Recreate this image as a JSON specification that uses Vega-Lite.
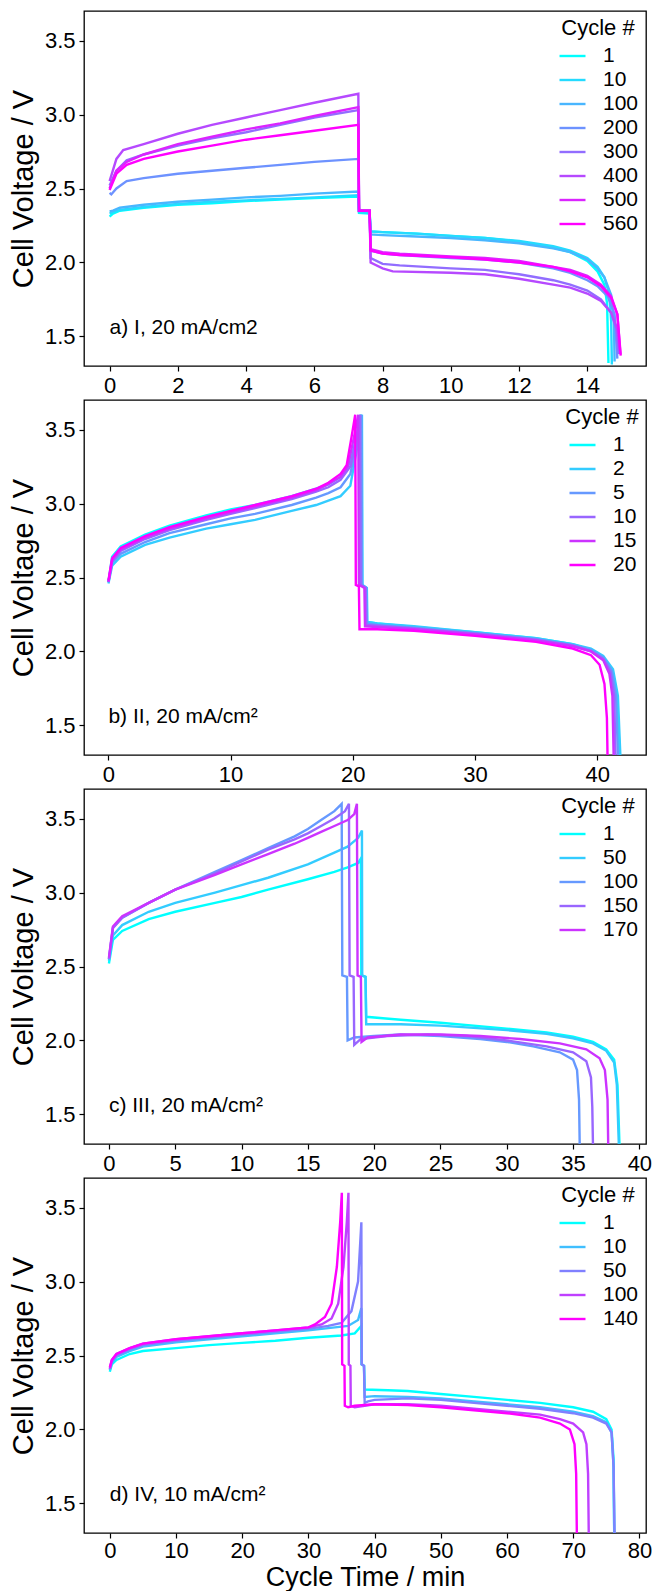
{
"$schema": "https://vega.github.io/schema/vega-lite/v6.json",
"background": "white",
"padding": {"left": 8, "top": 10, "right": 9, "bottom": 0},
"bounds": "flush",
"spacing": 34,
"config": {
  "font": "Liberation Sans",
  "view": {"stroke": "black", "strokeWidth": 1.3},
  "axis": {"domain": false, "grid": false, "tickColor": "black", "tickSize": 5, "tickWidth": 1.2, "labelFontSize": 22, "labelColor": "black", "labelPadding": 4, "titleFontSize": 29, "titleFontWeight": "normal", "titleColor": "black", "titlePadding": 6},
  "legend": {"orient": "top-right", "offset": 7, "padding": 0, "titleFontSize": 22, "titleFontWeight": "normal", "titleColor": "black", "labelFontSize": 21, "labelColor": "black", "symbolType": "stroke", "symbolSize": 676, "symbolStrokeWidth": 2.5, "labelOffset": 16, "rowPadding": 0, "clipHeight": 24, "titleAnchor": "middle", "titlePadding": 4},
  "line": {"strokeWidth": 2.4, "clip": true},
  "text": {"fontSize": 21, "color": "black", "align": "left", "baseline": "alphabetic"}
},
"resolve": {"scale": {"color": "independent", "x": "independent", "y": "independent"}, "legend": {"color": "independent"}},
"datasets": {
"a": [
{"c":1,"t":0,"v":2.31},{"c":1,"t":0.1,"v":2.33},{"c":1,"t":0.3,"v":2.35},{"c":1,"t":1,"v":2.37},{"c":1,"t":2,"v":2.39},{"c":1,"t":3,"v":2.40},{"c":1,"t":4,"v":2.415},{"c":1,"t":5,"v":2.425},{"c":1,"t":6,"v":2.435},{"c":1,"t":7.29,"v":2.445},{"c":1,"t":7.31,"v":2.335},{"c":1,"t":7.62,"v":2.33},{"c":1,"t":7.65,"v":2.21},{"c":1,"t":8,"v":2.205},{"c":1,"t":9,"v":2.195},{"c":1,"t":10,"v":2.18},{"c":1,"t":11,"v":2.165},{"c":1,"t":12,"v":2.14},{"c":1,"t":13,"v":2.10},{"c":1,"t":13.5,"v":2.07},{"c":1,"t":14,"v":2.01},{"c":1,"t":14.3,"v":1.94},{"c":1,"t":14.5,"v":1.85},{"c":1,"t":14.58,"v":1.72},{"c":1,"t":14.62,"v":1.32},
{"c":10,"t":0,"v":2.33},{"c":10,"t":0.1,"v":2.34},{"c":10,"t":0.3,"v":2.355},{"c":10,"t":1,"v":2.375},{"c":10,"t":2,"v":2.395},{"c":10,"t":3,"v":2.41},{"c":10,"t":4,"v":2.42},{"c":10,"t":5,"v":2.43},{"c":10,"t":6,"v":2.44},{"c":10,"t":7.29,"v":2.455},{"c":10,"t":7.31,"v":2.34},{"c":10,"t":7.62,"v":2.335},{"c":10,"t":7.65,"v":2.21},{"c":10,"t":8,"v":2.205},{"c":10,"t":9,"v":2.195},{"c":10,"t":10,"v":2.18},{"c":10,"t":11,"v":2.165},{"c":10,"t":12,"v":2.145},{"c":10,"t":13,"v":2.11},{"c":10,"t":13.5,"v":2.08},{"c":10,"t":14,"v":2.03},{"c":10,"t":14.3,"v":1.97},{"c":10,"t":14.5,"v":1.90},{"c":10,"t":14.65,"v":1.78},{"c":10,"t":14.7,"v":1.60},{"c":10,"t":14.72,"v":1.31},
{"c":100,"t":0,"v":2.345},{"c":100,"t":0.1,"v":2.35},{"c":100,"t":0.3,"v":2.37},{"c":100,"t":1,"v":2.39},{"c":100,"t":2,"v":2.41},{"c":100,"t":3,"v":2.425},{"c":100,"t":4,"v":2.44},{"c":100,"t":5,"v":2.45},{"c":100,"t":6,"v":2.465},{"c":100,"t":7.29,"v":2.48},{"c":100,"t":7.31,"v":2.35},{"c":100,"t":7.62,"v":2.345},{"c":100,"t":7.65,"v":2.19},{"c":100,"t":8,"v":2.185},{"c":100,"t":9,"v":2.175},{"c":100,"t":10,"v":2.165},{"c":100,"t":11,"v":2.15},{"c":100,"t":12,"v":2.13},{"c":100,"t":13,"v":2.095},{"c":100,"t":13.5,"v":2.07},{"c":100,"t":14,"v":2.02},{"c":100,"t":14.3,"v":1.96},{"c":100,"t":14.5,"v":1.90},{"c":100,"t":14.7,"v":1.78},{"c":100,"t":14.78,"v":1.60},{"c":100,"t":14.8,"v":1.33},
{"c":200,"t":0,"v":2.47},{"c":200,"t":0.05,"v":2.46},{"c":200,"t":0.2,"v":2.50},{"c":200,"t":0.5,"v":2.55},{"c":200,"t":1,"v":2.57},{"c":200,"t":2,"v":2.60},{"c":200,"t":3,"v":2.62},{"c":200,"t":4,"v":2.64},{"c":200,"t":5,"v":2.66},{"c":200,"t":6,"v":2.68},{"c":200,"t":7.29,"v":2.70},{"c":200,"t":7.31,"v":2.35},{"c":200,"t":7.62,"v":2.35},{"c":200,"t":7.65,"v":2.08},{"c":200,"t":8,"v":2.06},{"c":200,"t":8.5,"v":2.05},{"c":200,"t":10,"v":2.03},{"c":200,"t":11,"v":2.02},{"c":200,"t":12,"v":2.00},{"c":200,"t":13,"v":1.96},{"c":200,"t":13.5,"v":1.93},{"c":200,"t":14,"v":1.88},{"c":200,"t":14.3,"v":1.84},{"c":200,"t":14.6,"v":1.77},{"c":200,"t":14.8,"v":1.65},{"c":200,"t":14.88,"v":1.35},
{"c":300,"t":0,"v":2.52},{"c":300,"t":0.2,"v":2.62},{"c":300,"t":0.5,"v":2.69},{"c":300,"t":1,"v":2.73},{"c":300,"t":2,"v":2.79},{"c":300,"t":3,"v":2.84},{"c":300,"t":4,"v":2.88},{"c":300,"t":5,"v":2.93},{"c":300,"t":6,"v":2.98},{"c":300,"t":7.29,"v":3.03},{"c":300,"t":7.31,"v":2.35},{"c":300,"t":7.62,"v":2.35},{"c":300,"t":7.65,"v":2.03},{"c":300,"t":8,"v":1.99},{"c":300,"t":8.5,"v":1.98},{"c":300,"t":10,"v":1.96},{"c":300,"t":11,"v":1.95},{"c":300,"t":12,"v":1.92},{"c":300,"t":13,"v":1.88},{"c":300,"t":13.5,"v":1.85},{"c":300,"t":14,"v":1.81},{"c":300,"t":14.4,"v":1.75},{"c":300,"t":14.7,"v":1.66},{"c":300,"t":14.85,"v":1.55},{"c":300,"t":14.92,"v":1.38},
{"c":400,"t":0,"v":2.55},{"c":400,"t":0.2,"v":2.70},{"c":400,"t":0.4,"v":2.76},{"c":400,"t":1,"v":2.80},{"c":400,"t":2,"v":2.87},{"c":400,"t":3,"v":2.93},{"c":400,"t":4,"v":2.98},{"c":400,"t":5,"v":3.03},{"c":400,"t":6,"v":3.08},{"c":400,"t":7.29,"v":3.14},{"c":400,"t":7.31,"v":2.35},{"c":400,"t":7.62,"v":2.35},{"c":400,"t":7.65,"v":2.00},{"c":400,"t":8,"v":1.96},{"c":400,"t":8.3,"v":1.94},{"c":400,"t":10,"v":1.93},{"c":400,"t":11,"v":1.92},{"c":400,"t":12,"v":1.89},{"c":400,"t":13,"v":1.85},{"c":400,"t":13.5,"v":1.83},{"c":400,"t":14,"v":1.79},{"c":400,"t":14.4,"v":1.74},{"c":400,"t":14.7,"v":1.66},{"c":400,"t":14.88,"v":1.55},{"c":400,"t":14.95,"v":1.40},
{"c":500,"t":0,"v":2.50},{"c":500,"t":0.2,"v":2.62},{"c":500,"t":0.5,"v":2.68},{"c":500,"t":1,"v":2.73},{"c":500,"t":2,"v":2.80},{"c":500,"t":3,"v":2.85},{"c":500,"t":4,"v":2.90},{"c":500,"t":5,"v":2.94},{"c":500,"t":6,"v":2.99},{"c":500,"t":7.29,"v":3.05},{"c":500,"t":7.31,"v":2.35},{"c":500,"t":7.62,"v":2.35},{"c":500,"t":7.65,"v":2.09},{"c":500,"t":8,"v":2.07},{"c":500,"t":8.5,"v":2.06},{"c":500,"t":10,"v":2.04},{"c":500,"t":11,"v":2.03},{"c":500,"t":12,"v":2.01},{"c":500,"t":13,"v":1.97},{"c":500,"t":13.5,"v":1.95},{"c":500,"t":14,"v":1.91},{"c":500,"t":14.4,"v":1.85},{"c":500,"t":14.7,"v":1.77},{"c":500,"t":14.88,"v":1.65},{"c":500,"t":14.97,"v":1.38},
{"c":560,"t":0,"v":2.49},{"c":560,"t":0.2,"v":2.60},{"c":560,"t":0.5,"v":2.66},{"c":560,"t":1,"v":2.70},{"c":560,"t":2,"v":2.75},{"c":560,"t":3,"v":2.79},{"c":560,"t":4,"v":2.83},{"c":560,"t":5,"v":2.86},{"c":560,"t":6,"v":2.89},{"c":560,"t":7.29,"v":2.93},{"c":560,"t":7.31,"v":2.35},{"c":560,"t":7.62,"v":2.35},{"c":560,"t":7.65,"v":2.08},{"c":560,"t":8,"v":2.06},{"c":560,"t":8.5,"v":2.05},{"c":560,"t":10,"v":2.035},{"c":560,"t":11,"v":2.02},{"c":560,"t":12,"v":2.00},{"c":560,"t":13,"v":1.97},{"c":560,"t":13.5,"v":1.94},{"c":560,"t":14,"v":1.90},{"c":560,"t":14.4,"v":1.84},{"c":560,"t":14.7,"v":1.76},{"c":560,"t":14.88,"v":1.65},{"c":560,"t":14.98,"v":1.37}
],
"b": [
{"c":1,"t":0,"v":2.47},{"c":1,"t":0.3,"v":2.64},{"c":1,"t":1,"v":2.71},{"c":1,"t":3,"v":2.79},{"c":1,"t":5,"v":2.85},{"c":1,"t":8,"v":2.92},{"c":1,"t":10,"v":2.96},{"c":1,"t":12,"v":2.99},{"c":1,"t":15,"v":3.05},{"c":1,"t":17,"v":3.10},{"c":1,"t":18,"v":3.13},{"c":1,"t":19,"v":3.18},{"c":1,"t":19.8,"v":3.28},{"c":1,"t":20.3,"v":3.45},{"c":1,"t":20.65,"v":3.60},{"c":1,"t":20.7,"v":2.45},{"c":1,"t":21.1,"v":2.43},{"c":1,"t":21.15,"v":2.20},{"c":1,"t":22,"v":2.19},{"c":1,"t":25,"v":2.165},{"c":1,"t":30,"v":2.13},{"c":1,"t":35,"v":2.09},{"c":1,"t":38,"v":2.05},{"c":1,"t":39.5,"v":2.01},{"c":1,"t":40.5,"v":1.96},{"c":1,"t":41.2,"v":1.88},{"c":1,"t":41.6,"v":1.72},{"c":1,"t":41.85,"v":1.30},
{"c":2,"t":0,"v":2.46},{"c":2,"t":0.3,"v":2.58},{"c":2,"t":1,"v":2.64},{"c":2,"t":3,"v":2.72},{"c":2,"t":5,"v":2.77},{"c":2,"t":8,"v":2.83},{"c":2,"t":10,"v":2.86},{"c":2,"t":12,"v":2.89},{"c":2,"t":15,"v":2.95},{"c":2,"t":17,"v":2.99},{"c":2,"t":18,"v":3.02},{"c":2,"t":19,"v":3.05},{"c":2,"t":19.8,"v":3.12},{"c":2,"t":20.3,"v":3.35},{"c":2,"t":20.75,"v":3.60},{"c":2,"t":20.8,"v":2.45},{"c":2,"t":21.15,"v":2.43},{"c":2,"t":21.2,"v":2.20},{"c":2,"t":22,"v":2.19},{"c":2,"t":25,"v":2.17},{"c":2,"t":30,"v":2.13},{"c":2,"t":35,"v":2.09},{"c":2,"t":38,"v":2.05},{"c":2,"t":39.5,"v":2.02},{"c":2,"t":40.5,"v":1.97},{"c":2,"t":41.3,"v":1.88},{"c":2,"t":41.7,"v":1.70},{"c":2,"t":41.9,"v":1.30},
{"c":5,"t":0,"v":2.47},{"c":5,"t":0.3,"v":2.60},{"c":5,"t":1,"v":2.66},{"c":5,"t":3,"v":2.74},{"c":5,"t":5,"v":2.80},{"c":5,"t":8,"v":2.86},{"c":5,"t":10,"v":2.90},{"c":5,"t":12,"v":2.93},{"c":5,"t":15,"v":2.99},{"c":5,"t":17,"v":3.04},{"c":5,"t":18,"v":3.07},{"c":5,"t":19,"v":3.11},{"c":5,"t":19.8,"v":3.20},{"c":5,"t":20.3,"v":3.40},{"c":5,"t":20.7,"v":3.60},{"c":5,"t":20.75,"v":2.45},{"c":5,"t":21.1,"v":2.43},{"c":5,"t":21.15,"v":2.19},{"c":5,"t":22,"v":2.18},{"c":5,"t":25,"v":2.16},{"c":5,"t":30,"v":2.125},{"c":5,"t":35,"v":2.085},{"c":5,"t":38,"v":2.045},{"c":5,"t":39.5,"v":2.01},{"c":5,"t":40.5,"v":1.96},{"c":5,"t":41.2,"v":1.87},{"c":5,"t":41.55,"v":1.70},{"c":5,"t":41.7,"v":1.30},
{"c":10,"t":0,"v":2.47},{"c":10,"t":0.3,"v":2.61},{"c":10,"t":1,"v":2.68},{"c":10,"t":3,"v":2.76},{"c":10,"t":5,"v":2.82},{"c":10,"t":8,"v":2.89},{"c":10,"t":10,"v":2.93},{"c":10,"t":12,"v":2.97},{"c":10,"t":15,"v":3.03},{"c":10,"t":17,"v":3.08},{"c":10,"t":18,"v":3.11},{"c":10,"t":19,"v":3.16},{"c":10,"t":19.8,"v":3.25},{"c":10,"t":20.3,"v":3.45},{"c":10,"t":20.6,"v":3.60},{"c":10,"t":20.65,"v":2.45},{"c":10,"t":21.05,"v":2.43},{"c":10,"t":21.1,"v":2.18},{"c":10,"t":22,"v":2.175},{"c":10,"t":25,"v":2.155},{"c":10,"t":30,"v":2.12},{"c":10,"t":35,"v":2.08},{"c":10,"t":38,"v":2.04},{"c":10,"t":39.5,"v":2.00},{"c":10,"t":40.5,"v":1.95},{"c":10,"t":41.1,"v":1.86},{"c":10,"t":41.4,"v":1.70},{"c":10,"t":41.5,"v":1.30},
{"c":15,"t":0,"v":2.47},{"c":15,"t":0.3,"v":2.62},{"c":15,"t":1,"v":2.69},{"c":15,"t":3,"v":2.77},{"c":15,"t":5,"v":2.83},{"c":15,"t":8,"v":2.90},{"c":15,"t":10,"v":2.94},{"c":15,"t":12,"v":2.98},{"c":15,"t":15,"v":3.04},{"c":15,"t":17,"v":3.09},{"c":15,"t":18,"v":3.13},{"c":15,"t":19,"v":3.18},{"c":15,"t":19.6,"v":3.25},{"c":15,"t":20.1,"v":3.45},{"c":15,"t":20.45,"v":3.60},{"c":15,"t":20.5,"v":2.45},{"c":15,"t":20.95,"v":2.43},{"c":15,"t":21.0,"v":2.17},{"c":15,"t":22,"v":2.165},{"c":15,"t":25,"v":2.15},{"c":15,"t":30,"v":2.115},{"c":15,"t":35,"v":2.075},{"c":15,"t":38,"v":2.035},{"c":15,"t":39.5,"v":2.00},{"c":15,"t":40.5,"v":1.94},{"c":15,"t":41.0,"v":1.85},{"c":15,"t":41.25,"v":1.70},{"c":15,"t":41.35,"v":1.30},
{"c":20,"t":0,"v":2.48},{"c":20,"t":0.3,"v":2.63},{"c":20,"t":1,"v":2.70},{"c":20,"t":3,"v":2.78},{"c":20,"t":5,"v":2.84},{"c":20,"t":8,"v":2.91},{"c":20,"t":10,"v":2.95},{"c":20,"t":12,"v":2.99},{"c":20,"t":15,"v":3.05},{"c":20,"t":17,"v":3.10},{"c":20,"t":18,"v":3.14},{"c":20,"t":19,"v":3.20},{"c":20,"t":19.5,"v":3.26},{"c":20,"t":19.9,"v":3.45},{"c":20,"t":20.2,"v":3.60},{"c":20,"t":20.25,"v":2.45},{"c":20,"t":20.5,"v":2.44},{"c":20,"t":20.55,"v":2.15},{"c":20,"t":22,"v":2.15},{"c":20,"t":25,"v":2.14},{"c":20,"t":30,"v":2.105},{"c":20,"t":35,"v":2.065},{"c":20,"t":38,"v":2.02},{"c":20,"t":39.5,"v":1.975},{"c":20,"t":40.2,"v":1.91},{"c":20,"t":40.6,"v":1.78},{"c":20,"t":40.8,"v":1.55},{"c":20,"t":40.85,"v":1.30}
],
"c": [
{"c":1,"t":0,"v":2.52},{"c":1,"t":0.3,"v":2.68},{"c":1,"t":1,"v":2.74},{"c":1,"t":3,"v":2.82},{"c":1,"t":5,"v":2.87},{"c":1,"t":8,"v":2.93},{"c":1,"t":10,"v":2.97},{"c":1,"t":12,"v":3.02},{"c":1,"t":15,"v":3.09},{"c":1,"t":17,"v":3.14},{"c":1,"t":18,"v":3.17},{"c":1,"t":18.8,"v":3.20},{"c":1,"t":19,"v":3.23},{"c":1,"t":19.03,"v":2.44},{"c":1,"t":19.35,"v":2.43},{"c":1,"t":19.4,"v":2.16},{"c":1,"t":22,"v":2.14},{"c":1,"t":25,"v":2.12},{"c":1,"t":30,"v":2.08},{"c":1,"t":33,"v":2.055},{"c":1,"t":35,"v":2.025},{"c":1,"t":36.5,"v":1.99},{"c":1,"t":37.5,"v":1.94},{"c":1,"t":38.1,"v":1.87},{"c":1,"t":38.35,"v":1.70},{"c":1,"t":38.5,"v":1.30},
{"c":50,"t":0,"v":2.54},{"c":50,"t":0.3,"v":2.71},{"c":50,"t":1,"v":2.78},{"c":50,"t":3,"v":2.87},{"c":50,"t":5,"v":2.93},{"c":50,"t":8,"v":3.00},{"c":50,"t":10,"v":3.05},{"c":50,"t":12,"v":3.10},{"c":50,"t":15,"v":3.19},{"c":50,"t":17,"v":3.27},{"c":50,"t":18,"v":3.31},{"c":50,"t":18.8,"v":3.37},{"c":50,"t":19.08,"v":3.42},{"c":50,"t":19.1,"v":2.44},{"c":50,"t":19.35,"v":2.43},{"c":50,"t":19.4,"v":2.11},{"c":50,"t":22,"v":2.11},{"c":50,"t":25,"v":2.10},{"c":50,"t":30,"v":2.07},{"c":50,"t":33,"v":2.045},{"c":50,"t":35,"v":2.015},{"c":50,"t":36.5,"v":1.98},{"c":50,"t":37.5,"v":1.93},{"c":50,"t":38.1,"v":1.85},{"c":50,"t":38.3,"v":1.70},{"c":50,"t":38.45,"v":1.30},
{"c":100,"t":0,"v":2.55},{"c":100,"t":0.3,"v":2.76},{"c":100,"t":1,"v":2.83},{"c":100,"t":3,"v":2.93},{"c":100,"t":5,"v":3.02},{"c":100,"t":8,"v":3.14},{"c":100,"t":10,"v":3.22},{"c":100,"t":12,"v":3.30},{"c":100,"t":14,"v":3.38},{"c":100,"t":15,"v":3.43},{"c":100,"t":16,"v":3.49},{"c":100,"t":17,"v":3.55},{"c":100,"t":17.55,"v":3.60},{"c":100,"t":17.6,"v":2.44},{"c":100,"t":17.95,"v":2.43},{"c":100,"t":18.0,"v":2.00},{"c":100,"t":18.5,"v":2.02},{"c":100,"t":20,"v":2.03},{"c":100,"t":22,"v":2.04},{"c":100,"t":25,"v":2.03},{"c":100,"t":28,"v":2.01},{"c":100,"t":30,"v":1.99},{"c":100,"t":32,"v":1.96},{"c":100,"t":34,"v":1.92},{"c":100,"t":35,"v":1.87},{"c":100,"t":35.3,"v":1.80},{"c":100,"t":35.45,"v":1.60},{"c":100,"t":35.5,"v":1.30},
{"c":150,"t":0,"v":2.55},{"c":150,"t":0.3,"v":2.76},{"c":150,"t":1,"v":2.83},{"c":150,"t":3,"v":2.93},{"c":150,"t":5,"v":3.02},{"c":150,"t":8,"v":3.13},{"c":150,"t":10,"v":3.21},{"c":150,"t":12,"v":3.29},{"c":150,"t":14,"v":3.36},{"c":150,"t":15,"v":3.40},{"c":150,"t":16,"v":3.45},{"c":150,"t":17,"v":3.50},{"c":150,"t":17.8,"v":3.55},{"c":150,"t":18.1,"v":3.60},{"c":150,"t":18.15,"v":2.44},{"c":150,"t":18.45,"v":2.43},{"c":150,"t":18.5,"v":1.97},{"c":150,"t":19,"v":2.01},{"c":150,"t":21,"v":2.03},{"c":150,"t":24,"v":2.04},{"c":150,"t":27,"v":2.03},{"c":150,"t":30,"v":2.00},{"c":150,"t":33,"v":1.96},{"c":150,"t":35,"v":1.92},{"c":150,"t":36,"v":1.86},{"c":150,"t":36.35,"v":1.75},{"c":150,"t":36.45,"v":1.55},{"c":150,"t":36.5,"v":1.30},
{"c":170,"t":0,"v":2.56},{"c":170,"t":0.3,"v":2.77},{"c":170,"t":1,"v":2.84},{"c":170,"t":3,"v":2.93},{"c":170,"t":5,"v":3.02},{"c":170,"t":8,"v":3.12},{"c":170,"t":10,"v":3.19},{"c":170,"t":12,"v":3.26},{"c":170,"t":14,"v":3.33},{"c":170,"t":15,"v":3.37},{"c":170,"t":16,"v":3.41},{"c":170,"t":17,"v":3.45},{"c":170,"t":18,"v":3.49},{"c":170,"t":18.5,"v":3.53},{"c":170,"t":18.7,"v":3.60},{"c":170,"t":18.75,"v":2.44},{"c":170,"t":19.0,"v":2.43},{"c":170,"t":19.05,"v":1.99},{"c":170,"t":19.5,"v":2.02},{"c":170,"t":22,"v":2.04},{"c":170,"t":25,"v":2.04},{"c":170,"t":28,"v":2.03},{"c":170,"t":31,"v":2.01},{"c":170,"t":34,"v":1.98},{"c":170,"t":36,"v":1.94},{"c":170,"t":37,"v":1.88},{"c":170,"t":37.4,"v":1.80},{"c":170,"t":37.6,"v":1.60},{"c":170,"t":37.65,"v":1.30}
],
"d": [
{"c":1,"t":0,"v":2.39},{"c":1,"t":0.3,"v":2.44},{"c":1,"t":1,"v":2.47},{"c":1,"t":3,"v":2.51},{"c":1,"t":5,"v":2.53},{"c":1,"t":10,"v":2.55},{"c":1,"t":15,"v":2.57},{"c":1,"t":20,"v":2.585},{"c":1,"t":25,"v":2.60},{"c":1,"t":30,"v":2.62},{"c":1,"t":35,"v":2.635},{"c":1,"t":37,"v":2.65},{"c":1,"t":38,"v":2.70},{"c":1,"t":38.05,"v":2.44},{"c":1,"t":38.4,"v":2.43},{"c":1,"t":38.5,"v":2.27},{"c":1,"t":42,"v":2.265},{"c":1,"t":45,"v":2.26},{"c":1,"t":50,"v":2.24},{"c":1,"t":55,"v":2.22},{"c":1,"t":60,"v":2.20},{"c":1,"t":65,"v":2.18},{"c":1,"t":70,"v":2.15},{"c":1,"t":73,"v":2.12},{"c":1,"t":75,"v":2.07},{"c":1,"t":75.8,"v":2.00},{"c":1,"t":76.1,"v":1.80},{"c":1,"t":76.2,"v":1.30},
{"c":10,"t":0,"v":2.40},{"c":10,"t":0.3,"v":2.45},{"c":10,"t":1,"v":2.49},{"c":10,"t":3,"v":2.53},{"c":10,"t":5,"v":2.56},{"c":10,"t":10,"v":2.59},{"c":10,"t":15,"v":2.61},{"c":10,"t":20,"v":2.63},{"c":10,"t":25,"v":2.65},{"c":10,"t":30,"v":2.67},{"c":10,"t":34,"v":2.69},{"c":10,"t":36,"v":2.70},{"c":10,"t":37.5,"v":2.74},{"c":10,"t":38,"v":2.82},{"c":10,"t":38.05,"v":2.44},{"c":10,"t":38.4,"v":2.43},{"c":10,"t":38.5,"v":2.22},{"c":10,"t":40,"v":2.225},{"c":10,"t":45,"v":2.22},{"c":10,"t":50,"v":2.21},{"c":10,"t":55,"v":2.19},{"c":10,"t":60,"v":2.17},{"c":10,"t":65,"v":2.15},{"c":10,"t":70,"v":2.12},{"c":10,"t":73,"v":2.09},{"c":10,"t":75,"v":2.05},{"c":10,"t":75.8,"v":1.98},{"c":10,"t":76.1,"v":1.75},{"c":10,"t":76.2,"v":1.30},
{"c":50,"t":0,"v":2.41},{"c":50,"t":0.3,"v":2.46},{"c":50,"t":1,"v":2.50},{"c":50,"t":3,"v":2.54},{"c":50,"t":5,"v":2.57},{"c":50,"t":10,"v":2.60},{"c":50,"t":15,"v":2.62},{"c":50,"t":20,"v":2.64},{"c":50,"t":25,"v":2.66},{"c":50,"t":30,"v":2.68},{"c":50,"t":33,"v":2.70},{"c":50,"t":35,"v":2.72},{"c":50,"t":36.5,"v":2.80},{"c":50,"t":37.5,"v":3.00},{"c":50,"t":38,"v":3.40},{"c":50,"t":38.05,"v":2.44},{"c":50,"t":38.4,"v":2.43},{"c":50,"t":38.5,"v":2.18},{"c":50,"t":39,"v":2.19},{"c":50,"t":40,"v":2.20},{"c":50,"t":45,"v":2.21},{"c":50,"t":50,"v":2.20},{"c":50,"t":55,"v":2.18},{"c":50,"t":60,"v":2.16},{"c":50,"t":65,"v":2.14},{"c":50,"t":70,"v":2.11},{"c":50,"t":73,"v":2.08},{"c":50,"t":75,"v":2.04},{"c":50,"t":75.8,"v":1.98},{"c":50,"t":76.1,"v":1.75},{"c":50,"t":76.25,"v":1.30},
{"c":100,"t":0,"v":2.41},{"c":100,"t":0.3,"v":2.47},{"c":100,"t":1,"v":2.51},{"c":100,"t":3,"v":2.55},{"c":100,"t":5,"v":2.58},{"c":100,"t":10,"v":2.61},{"c":100,"t":15,"v":2.63},{"c":100,"t":20,"v":2.65},{"c":100,"t":25,"v":2.67},{"c":100,"t":30,"v":2.69},{"c":100,"t":32,"v":2.71},{"c":100,"t":33.5,"v":2.75},{"c":100,"t":34.5,"v":2.85},{"c":100,"t":35.3,"v":3.10},{"c":100,"t":35.8,"v":3.40},{"c":100,"t":36.05,"v":3.60},{"c":100,"t":36.1,"v":2.44},{"c":100,"t":36.35,"v":2.43},{"c":100,"t":36.4,"v":2.16},{"c":100,"t":37,"v":2.15},{"c":100,"t":40,"v":2.17},{"c":100,"t":45,"v":2.17},{"c":100,"t":50,"v":2.16},{"c":100,"t":55,"v":2.14},{"c":100,"t":60,"v":2.12},{"c":100,"t":65,"v":2.10},{"c":100,"t":68,"v":2.07},{"c":100,"t":70,"v":2.04},{"c":100,"t":71.5,"v":1.98},{"c":100,"t":72,"v":1.90},{"c":100,"t":72.25,"v":1.70},{"c":100,"t":72.35,"v":1.30},
{"c":140,"t":0,"v":2.42},{"c":140,"t":0.3,"v":2.47},{"c":140,"t":1,"v":2.51},{"c":140,"t":3,"v":2.55},{"c":140,"t":5,"v":2.58},{"c":140,"t":10,"v":2.61},{"c":140,"t":15,"v":2.63},{"c":140,"t":20,"v":2.65},{"c":140,"t":25,"v":2.67},{"c":140,"t":30,"v":2.69},{"c":140,"t":31,"v":2.71},{"c":140,"t":32.5,"v":2.76},{"c":140,"t":33.5,"v":2.85},{"c":140,"t":34.3,"v":3.10},{"c":140,"t":34.8,"v":3.40},{"c":140,"t":35.05,"v":3.60},{"c":140,"t":35.1,"v":2.44},{"c":140,"t":35.45,"v":2.43},{"c":140,"t":35.5,"v":2.16},{"c":140,"t":36,"v":2.15},{"c":140,"t":37,"v":2.16},{"c":140,"t":40,"v":2.17},{"c":140,"t":45,"v":2.165},{"c":140,"t":50,"v":2.15},{"c":140,"t":55,"v":2.13},{"c":140,"t":60,"v":2.11},{"c":140,"t":65,"v":2.08},{"c":140,"t":68,"v":2.04},{"c":140,"t":69.5,"v":2.00},{"c":140,"t":70.2,"v":1.90},{"c":140,"t":70.45,"v":1.70},{"c":140,"t":70.55,"v":1.30}
]
},
"vconcat": [
{
 "width": 562, "height": 355,
 "layer": [
  {"data": {"name": "a"}, "mark": {"type": "line", "clip": true},
   "encoding": {
    "x": {"field": "t", "type": "quantitative", "scale": {"domain": [-0.75, 15.72], "nice": false, "zero": false}, "axis": {"title": null, "values": [0,2,4,6,8,10,12,14]}},
    "y": {"field": "v", "type": "quantitative", "scale": {"domain": [1.3, 3.7], "nice": false, "zero": false}, "axis": {"title": "Cell Voltage / V", "values": [1.5,2,2.5,3,3.5], "format": ".1f"}},
    "color": {"field": "c", "type": "nominal", "scale": {"domain": [1,10,100,200,300,400,500,560], "range": ["#00ffff","#24dbff","#49b6ff","#6d92ff","#926dff","#b649ff","#db24ff","#ff00ff"]}, "legend": {"title": "Cycle #"}}
   }},
  {"data": {"values": [{}]}, "mark": {"type": "text"},
   "encoding": {"x": {"datum": 0}, "y": {"datum": 1.515}, "text": {"value": "a) I, 20 mA/cm2"}}}
 ]
},
{
 "width": 562, "height": 355,
 "layer": [
  {"data": {"name": "b"}, "mark": {"type": "line", "clip": true},
   "encoding": {
    "x": {"field": "t", "type": "quantitative", "scale": {"domain": [-2.0, 44.0], "nice": false, "zero": false}, "axis": {"title": null, "values": [0,10,20,30,40]}},
    "y": {"field": "v", "type": "quantitative", "scale": {"domain": [1.3, 3.7], "nice": false, "zero": false}, "axis": {"title": "Cell Voltage / V", "values": [1.5,2,2.5,3,3.5], "format": ".1f"}},
    "color": {"field": "c", "type": "nominal", "scale": {"domain": [1,2,5,10,15,20], "range": ["#00ffff","#33ccff","#6699ff","#9966ff","#cc33ff","#ff00ff"]}, "legend": {"title": "Cycle #"}}
   }},
  {"data": {"values": [{}]}, "mark": {"type": "text"},
   "encoding": {"x": {"datum": 0}, "y": {"datum": 1.515}, "text": {"value": "b) II, 20 mA/cm²"}}}
 ]
},
{
 "width": 562, "height": 355,
 "layer": [
  {"data": {"name": "c"}, "mark": {"type": "line", "clip": true},
   "encoding": {
    "x": {"field": "t", "type": "quantitative", "scale": {"domain": [-1.88, 40.5], "nice": false, "zero": false}, "axis": {"title": null, "values": [0,5,10,15,20,25,30,35,40]}},
    "y": {"field": "v", "type": "quantitative", "scale": {"domain": [1.3, 3.7], "nice": false, "zero": false}, "axis": {"title": "Cell Voltage / V", "values": [1.5,2,2.5,3,3.5], "format": ".1f"}},
    "color": {"field": "c", "type": "nominal", "scale": {"domain": [1,50,100,150,170], "range": ["#00ffff","#33ccff","#6699ff","#9966ff","#cc33ff"]}, "legend": {"title": "Cycle #"}}
   }},
  {"data": {"values": [{}]}, "mark": {"type": "text"},
   "encoding": {"x": {"datum": 0}, "y": {"datum": 1.515}, "text": {"value": "c) III, 20 mA/cm²"}}}
 ]
},
{
 "width": 562, "height": 355,
 "layer": [
  {"data": {"name": "d"}, "mark": {"type": "line", "clip": true},
   "encoding": {
    "x": {"field": "t", "type": "quantitative", "scale": {"domain": [-3.9, 81.0], "nice": false, "zero": false}, "axis": {"title": "Cycle Time / min", "titlePadding": 3, "titleFontSize": 27, "labelPadding": 2, "values": [0,10,20,30,40,50,60,70,80]}},
    "y": {"field": "v", "type": "quantitative", "scale": {"domain": [1.3, 3.7], "nice": false, "zero": false}, "axis": {"title": "Cell Voltage / V", "values": [1.5,2,2.5,3,3.5], "format": ".1f"}},
    "color": {"field": "c", "type": "nominal", "scale": {"domain": [1,10,50,100,140], "range": ["#00ffff","#40bfff","#8080ff","#bf40ff","#ff00ff"]}, "legend": {"title": "Cycle #"}}
   }},
  {"data": {"values": [{}]}, "mark": {"type": "text"},
   "encoding": {"x": {"datum": 0}, "y": {"datum": 1.515}, "text": {"value": "d) IV, 10 mA/cm²"}}}
 ]
}
]
}
